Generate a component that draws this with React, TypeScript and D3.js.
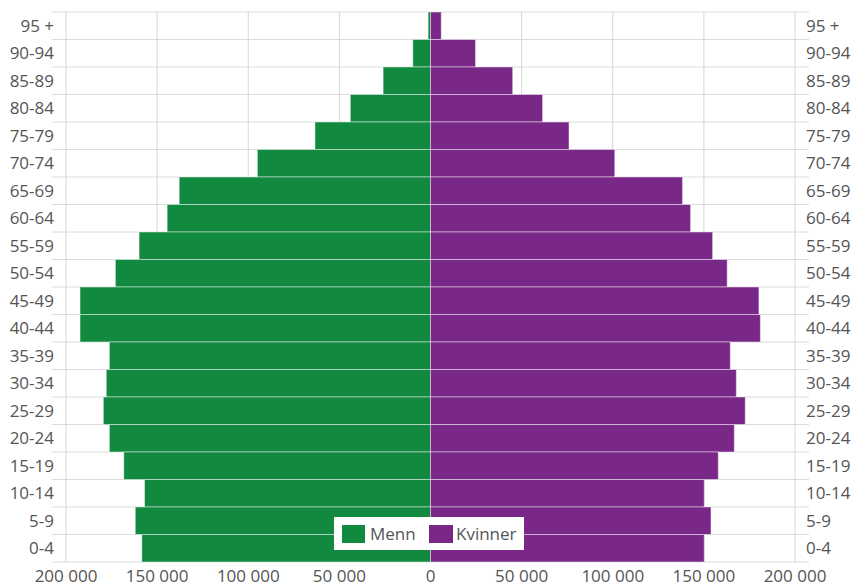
import * as d3 from "d3";

// age groups, top to bottom
const ageGroups = [
  "95 +", "90-94", "85-89", "80-84", "75-79", "70-74", "65-69", "60-64",
  "55-59", "50-54", "45-49", "40-44", "35-39", "30-34", "25-29", "20-24",
  "15-19", "10-14", "5-9", "0-4",
];

const menn = [
  1300, 9700, 26000, 44000, 63400, 95000, 137900, 144500,
  159900, 172900, 192300, 192300, 176200, 177900, 179500, 176200,
  168300, 156900, 162000, 158400,
];

const kvinner = [
  5900, 24700, 45100, 61500, 76000, 101100, 138300, 142700,
  154800, 162800, 180200, 181000, 164500, 167800, 172700, 166700,
  157900, 150200, 153900, 150200,
];

const xTicks = [-200000, -150000, -100000, -50000, 0, 50000, 100000, 150000, 200000];

const W = 855;
const H = 587;
const GREEN = "#118a40";
const PURPLE = "#7a2887";
const TEXT = "#555";
const FONT = "'Open Sans', sans-serif";
const FS = 17;

const fmt = (v: number) => {
  const a = Math.abs(v);
  return a === 0 ? "0" : d3.format(",")(a).replace(/,/g, " ");
};

const App = () => {
  const x = d3.scaleLinear().domain([-200000, 200000]).range([66, 795]);
  const y = d3.scaleBand<string>().domain(ageGroups).range([12, 562]).padding(0);

  return (
    <svg
      width={W}
      height={H}
      style={{ position: "absolute", left: 0, top: 0, fontFamily: FONT }}
    >
      {/* horizontal row lines */}
      {ageGroups.map((g) => (
        <line
          key={"h" + g}
          x1={52}
          x2={809}
          y1={y(g)!}
          y2={y(g)!}
          stroke="#dcdcdc"
          strokeWidth={1}
        />
      ))}
      <line x1={52} x2={809} y1={562} y2={562} stroke="#dcdcdc" />
      {/* vertical grid */}
      {xTicks.map((t) => (
        <line
          key={"v" + t}
          x1={x(t)}
          x2={x(t)}
          y1={12}
          y2={562}
          stroke="#d6d6d6"
          strokeWidth={1}
        />
      ))}

      {/* bars */}
      {ageGroups.map((g, i) => (
        <g key={"b" + g}>
          <rect
            x={x(-menn[i])}
            y={y(g)!}
            width={x(0) - x(-menn[i])}
            height={y.bandwidth()}
            fill={GREEN}
            stroke="#fff"
            strokeOpacity={0.45}
            strokeWidth={1}
          />
          <rect
            x={x(0)}
            y={y(g)!}
            width={x(kvinner[i]) - x(0)}
            height={y.bandwidth()}
            fill={PURPLE}
            stroke="#fff"
            strokeOpacity={0.45}
            strokeWidth={1}
          />
        </g>
      ))}

      {/* y labels both sides */}
      {ageGroups.map((g) => (
        <g key={"l" + g} fontSize={FS} fill={TEXT}>
          <text x={54} y={y(g)! + y.bandwidth() / 2} dy="0.35em" textAnchor="end">
            {g}
          </text>
          <text x={806} y={y(g)! + y.bandwidth() / 2} dy="0.35em" textAnchor="start">
            {g}
          </text>
        </g>
      ))}

      {/* x labels */}
      {xTicks.map((t) => (
        <text
          key={"t" + t}
          x={x(t)}
          y={582}
          textAnchor="middle"
          fontSize={FS}
          fill={TEXT}
        >
          {fmt(t)}
        </text>
      ))}

      {/* legend */}
      <g transform="translate(334,517)">
        <rect width={190} height={33} fill="#fff" />
        <rect x={8} y={8} width={23} height={18} fill={GREEN} />
        <text x={36} y={17} dy="0.35em" fontSize={FS} fill={TEXT}>
          Menn
        </text>
        <rect x={95} y={8} width={24} height={18} fill={PURPLE} />
        <text x={122} y={17} dy="0.35em" fontSize={FS} fill={TEXT}>
          Kvinner
        </text>
      </g>
    </svg>
  );
};

export default App;
